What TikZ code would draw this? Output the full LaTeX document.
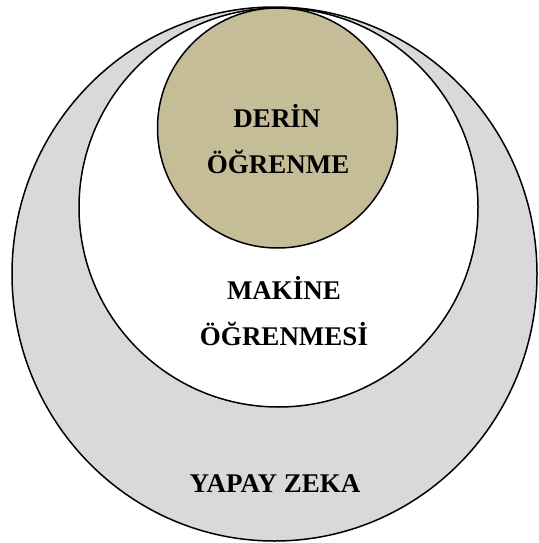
\documentclass[tikz,border=0pt]{standalone}
\usepackage{fontspec}
\setmainfont{Liberation Serif}
\definecolor{outergray}{HTML}{D9D9D9}
\definecolor{khaki}{HTML}{C4BD97}
\begin{document}
\begin{tikzpicture}[x=1pt,y=-1pt,
  ring/.style={draw=black,line width=1.5pt},
  lbl/.style={anchor=base,inner sep=0pt,font=\fontsize{27}{31}\selectfont\bfseries}]
\useasboundingbox (0,0) rectangle (538,543);
\draw[ring,fill=outergray] (274.5,274) ellipse [x radius=262.5,y radius=267];
\draw[ring,fill=white] (278.5,207.5) circle [radius=199.5];
\draw[ring,fill=khaki] (277.5,128) circle [radius=120];
\node[lbl] (d1) at (277,127) {DERİN};
\node[lbl] (d2) at (278,173) {ÖĞRENME};
\node[lbl] (m1) at (284,299) {MAKİNE};
\node[lbl] (m2) at (284,345) {ÖĞRENMESİ};
\node[lbl] (y1) at (275,492) {YAPAY ZEKA};
\end{tikzpicture}
\end{document}
